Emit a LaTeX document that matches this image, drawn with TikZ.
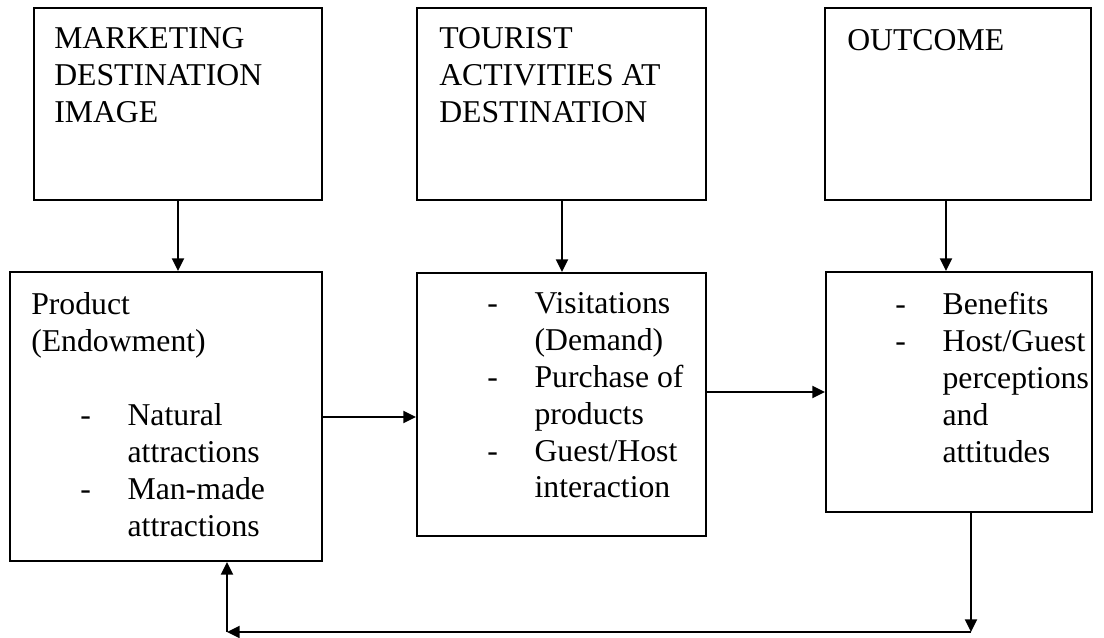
\documentclass[tikz,border=0pt]{standalone}
\usepackage{fontspec}
\setmainfont{Liberation Serif}
\usetikzlibrary{arrows.meta}
\newcommand\dashitem[1]{\makebox[35.5pt][l]{-}#1}
\newcommand\contitem[1]{\hspace*{35.5pt}#1}
\begin{document}
\begin{tikzpicture}[x=0.75pt,y=-0.75pt,
  box/.style={draw,line width=1.4pt,rectangle,inner sep=0pt},
  txt/.style={anchor=north west,inner sep=0pt,align=left,font=\fontsize{23.8}{27.7}\selectfont},
  arr/.style={-{Triangle[length=9.5pt,width=9pt]},line width=1.5pt}]
\useasboundingbox[fill=white] (0,0) rectangle (1104,637);
% top boxes
\node[box,minimum width=216pt,minimum height=144pt] (b1) at (178,104) {};
\node[box,minimum width=216.75pt,minimum height=144pt] (b2) at (561.5,104) {};
\node[box,minimum width=199.5pt,minimum height=144pt] (b3) at (958,104) {};
% bottom boxes
\node[box,minimum width=234pt,minimum height=216.75pt] (a) at (166,416.5) {};
\node[box,minimum width=216.75pt,minimum height=197.25pt] (b) at (561.5,404.5) {};
\node[box,minimum width=199.5pt,minimum height=180pt] (c) at (959,392) {};
% texts
\node[txt] (t1) at (54,27) {MARKETING\\DESTINATION\\IMAGE};
\node[txt] (t2) at (439,27) {TOURIST\\ACTIVITIES AT\\DESTINATION};
\node[txt] (t3) at (847,29) {OUTCOME};
\node[txt] (ta1) at (31,292) {Product\\(Endowment)};
\node[txt] (ta2) at (80,403) {\dashitem{Natural}\\\contitem{attractions}\\\dashitem{Man-made}\\\contitem{attractions}};
\node[txt] (tb) at (487,292) {\dashitem{Visitations}\\\contitem{(Demand)}\\\dashitem{Purchase of}\\\contitem{products}\\\dashitem{Guest/Host}\\\contitem{interaction}};
\node[txt] (tc) at (895,292) {\dashitem{Benefits}\\\dashitem{Host/Guest}\\\contitem{perceptions}\\\contitem{and}\\\contitem{attitudes}};
% connector coordinates
\coordinate (x1) at (178,0);
\coordinate (x2) at (562,0);
\coordinate (x3) at (946,0);
\coordinate (h1) at (0,417);
\coordinate (h2) at (0,392);
\coordinate (fb1) at (971,632);
\coordinate (fb2) at (227,632);
% connectors
\draw[arr] (b1.south -| x1) -- (a.north -| x1);
\draw[arr] (b2.south -| x2) -- (b.north -| x2);
\draw[arr] (b3.south -| x3) -- (c.north -| x3);
\draw[arr] (a.east |- h1) -- (b.west |- h1);
\draw[arr] (b.east |- h2) -- (c.west |- h2);
\draw[arr] (c.south -| fb1) -- (fb1);
\draw[arr] (fb1) -- (fb2);
\draw[arr] (fb2) -- (a.south -| fb2);
\end{tikzpicture}
\end{document}
